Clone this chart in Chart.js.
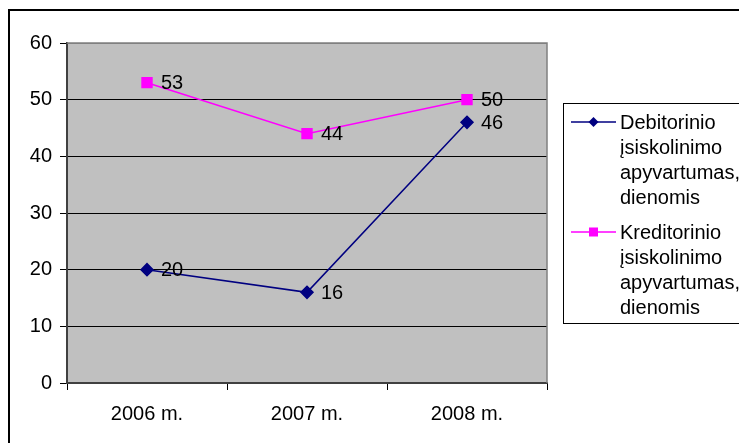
<!DOCTYPE html>
<html>
<head>
<meta charset="utf-8">
<script src="https://cdn.jsdelivr.net/npm/chart.js@4"></script>
<style>
  html, body { margin: 0; padding: 0; background: #ffffff; }
  #wrap { width: 739px; height: 443px; position: relative; }
</style>
</head>
<body>
<div id="wrap"><canvas id="c" width="739" height="443"></canvas></div>
<script>
// Turnover periods of receivables and payables, in days
const categories = ['2006 m.', '2007 m.', '2008 m.'];
const debitorinis = [20, 16, 46];
const kreditorinis = [53, 44, 50];
const seriesLabels = [
  ['Debitorinio', 'įsiskolinimo', 'apyvartumas,', 'dienomis'],
  ['Kreditorinio', 'įsiskolinimo', 'apyvartumas,', 'dienomis']
];
const yTicks = [0, 10, 20, 30, 40, 50, 60];

const FONT = '"Liberation Sans", Arial, sans-serif';
Chart.defaults.font.family = FONT;
Chart.defaults.font.size = 20;
Chart.defaults.color = '#000000';

// Outer frame and grey plot background
const framePlugin = {
  id: 'frame',
  beforeDraw(chart) {
    const ctx = chart.ctx, a = chart.chartArea;
    ctx.save();
    ctx.fillStyle = '#ffffff';
    ctx.fillRect(0, 0, chart.width, chart.height);
    ctx.strokeStyle = '#000000';
    ctx.lineWidth = 2;
    ctx.beginPath();
    ctx.moveTo(9, chart.height + 2);
    ctx.lineTo(9, 10);
    ctx.lineTo(chart.width + 2, 10);
    ctx.stroke();
    ctx.fillStyle = '#c0c0c0';
    ctx.fillRect(a.left, a.top, a.right - a.left, a.bottom - a.top);
    ctx.restore();
  },
  afterDatasetsDraw(chart) {
    const ctx = chart.ctx, a = chart.chartArea;
    ctx.save();
    ctx.strokeStyle = '#808080';
    ctx.lineWidth = 1.5;
    ctx.beginPath();
    ctx.moveTo(a.left, a.top);
    ctx.lineTo(a.right, a.top);
    ctx.lineTo(a.right, a.bottom);
    ctx.stroke();
    ctx.restore();
  }
};

// Value labels to the right of each point
const valueLabels = {
  id: 'valueLabels',
  afterDatasetsDraw(chart) {
    const ctx = chart.ctx;
    ctx.save();
    ctx.font = '20px ' + FONT;
    ctx.fillStyle = '#000000';
    ctx.textAlign = 'left';
    ctx.textBaseline = 'middle';
    chart.data.datasets.forEach((ds, i) => {
      chart.getDatasetMeta(i).data.forEach((pt, j) => {
        ctx.fillText(String(ds.data[j]), pt.x + 14, pt.y + 1);
      });
    });
    ctx.restore();
  }
};

// Legend box with wrapped series names
const sideLegend = {
  id: 'sideLegend',
  afterDraw(chart) {
    const ctx = chart.ctx;
    const left = 563, top = 103, bottom = 323;
    ctx.save();
    ctx.strokeStyle = '#000000';
    ctx.lineWidth = 1;
    ctx.strokeRect(left + 0.5, top + 0.5, chart.width + 5 - left, bottom - top);
    ctx.font = '20px ' + FONT;
    ctx.textAlign = 'left';
    ctx.textBaseline = 'middle';
    const lineH = 25;
    let y = 122;
    chart.data.datasets.forEach((ds, i) => {
      ctx.strokeStyle = ds.borderColor;
      ctx.lineWidth = 1.5;
      ctx.beginPath();
      ctx.moveTo(571, y);
      ctx.lineTo(616, y);
      ctx.stroke();
      ctx.fillStyle = ds.pointBackgroundColor;
      if (ds.pointStyle === 'rectRot') {
        ctx.beginPath();
        ctx.moveTo(593.5, y - 5);
        ctx.lineTo(598.5, y);
        ctx.lineTo(593.5, y + 5);
        ctx.lineTo(588.5, y);
        ctx.closePath();
        ctx.fill();
      } else {
        ctx.fillRect(589, y - 4.5, 9, 9);
      }
      ctx.fillStyle = '#000000';
      seriesLabels[i].forEach((t, k) => ctx.fillText(t, 620, y + k * lineH + 1));
      y += seriesLabels[i].length * lineH + 10;
    });
    ctx.restore();
  }
};

new Chart(document.getElementById('c'), {
  type: 'line',
  data: {
    labels: categories,
    datasets: [
      {
        label: seriesLabels[0].join(' '),
        data: debitorinis,
        borderColor: '#000080',
        backgroundColor: '#000080',
        pointBackgroundColor: '#000080',
        pointBorderColor: '#000080',
        pointStyle: 'rectRot',
        pointRadius: 6,
        borderWidth: 1.5,
        tension: 0
      },
      {
        label: seriesLabels[1].join(' '),
        data: kreditorinis,
        borderColor: '#ff00ff',
        backgroundColor: '#ff00ff',
        pointBackgroundColor: '#ff00ff',
        pointBorderColor: '#ff00ff',
        pointStyle: 'rect',
        pointRadius: 7,
        borderWidth: 1.5,
        tension: 0
      }
    ]
  },
  options: {
    responsive: false,
    animation: false,
    layout: { padding: { left: 10, top: 43, right: 192, bottom: 0 } },
    plugins: { legend: { display: false }, tooltip: { enabled: false } },
    scales: {
      x: {
        offset: true,
        grid: {
          offset: true,
          drawOnChartArea: false,
          drawTicks: true,
          tickLength: 7,
          tickColor: '#000000',
          color: '#000000'
        },
        border: { color: '#404040', width: 2 },
        ticks: { padding: 12, color: '#000000', font: { size: 20 } },
        afterFit(s) { s.height = 60; }
      },
      y: {
        min: 0,
        max: 60,
        afterBuildTicks(s) { s.ticks = yTicks.map(v => ({ value: v })); },
        grid: {
          color: ctx => ctx.tick && ctx.tick.value === 60 ? '#808080' : '#000000',
          tickColor: '#000000',
          tickLength: 7,
          lineWidth: 1
        },
        border: { color: '#404040', width: 2 },
        ticks: { padding: 8, color: '#000000', font: { size: 20 } },
        afterFit(s) { s.width = 57; }
      }
    }
  },
  plugins: [framePlugin, valueLabels, sideLegend]
});
</script>
</body>
</html>
